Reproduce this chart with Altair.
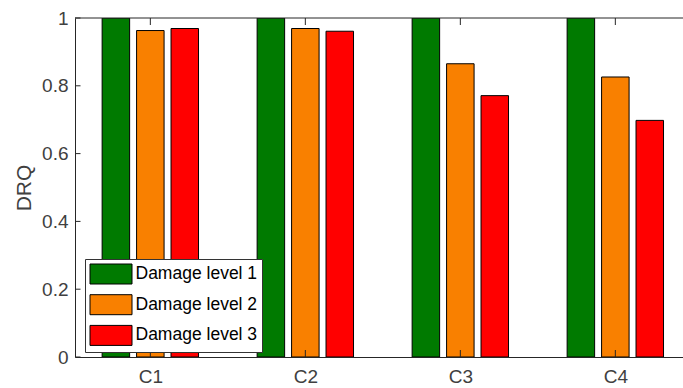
import json
import altair as alt
import pandas as pd

# Damage-response quotient per configuration and damage level
categories = ["C1", "C2", "C3", "C4"]
levels = ["Damage level 1", "Damage level 2", "Damage level 3"]
drq_level1 = [1.0, 1.0, 1.0, 1.0]
drq_level2 = [0.963, 0.969, 0.865, 0.826]
drq_level3 = [0.969, 0.961, 0.771, 0.698]
level_colors = ["#007a00", "#f98000", "#ff0000"]
y_ticks = [0, 0.2, 0.4, 0.6, 0.8, 1.0]

W, H = 608, 339
AXIS_COLOR = "#262626"
TEXT_COLOR = "#404040"
FONT = "Liberation Sans"

rows = []
for li, (name, series) in enumerate(zip(levels, [drq_level1, drq_level2, drq_level3]), start=1):
    for gi, (cat, v) in enumerate(zip(categories, series), start=1):
        rows.append({"group": gi, "level": li, "category": cat, "series": name, "DRQ": v})
df = pd.DataFrame(rows)

# grouped-bar layout: 3 bars share 2/3 of each unit slot
bar_step = (2 / 3) / len(levels)
x_scale = alt.Scale(domain=[0.514, 0.514 + W / 155.0], nice=False, zero=False, padding=0)
y_scale = alt.Scale(domain=[0, 1], nice=False)

label_expr = json.dumps(categories) + "[datum.value - 1]"

bars = (
    alt.Chart(df)
    .transform_calculate(pos=f"datum.group + (datum.level - 2) * {bar_step}")
    .mark_bar(size=27.5, stroke="black", strokeWidth=1, clip=True)
    .encode(
        x=alt.X(
            "pos:Q",
            scale=x_scale,
            axis=alt.Axis(
                values=[1, 2, 3, 4],
                labelExpr=label_expr,
                title="",
                grid=False,
                ticks=False,
                labelPadding=10,
                labelFontSize=19,
                labelFont=FONT,
                labelColor=TEXT_COLOR,
                domainColor=AXIS_COLOR,
                domainWidth=1,
                zindex=1,
            ),
        ),
        y=alt.Y(
            "DRQ:Q",
            scale=y_scale,
            axis=alt.Axis(
                values=y_ticks,
                format="~g",
                title="DRQ",
                grid=False,
                ticks=False,
                labelPadding=7,
                labelFontSize=19,
                labelFont=FONT,
                labelColor=TEXT_COLOR,
                titleFont=FONT,
                titleFontSize=21,
                titleFontWeight="normal",
                titleColor=TEXT_COLOR,
                titleX=-51,
                titleY=H / 2,
                titleAngle=-90,
                titleAlign="center",
                titleBaseline="middle",
                domainColor=AXIS_COLOR,
                domainWidth=1,
                zindex=1,
            ),
        ),
        color=alt.Color(
            "series:N",
            scale=alt.Scale(domain=levels, range=level_colors),
            legend=alt.Legend(
                title=None,
                orient="none",
                legendX=10,
                legendY=241,
                direction="vertical",
                # wide swatch: 20px layout box, drawn 42px wide to the right
                symbolType="M-1,-1H3.2V1H-1Z",
                symbolSize=400,
                symbolStrokeColor="black",
                symbolStrokeWidth=1,
                symbolOpacity=1,
                labelFont=FONT,
                labelFontSize=17.5,
                labelColor="black",
                labelOffset=25,
                rowPadding=5.7,
                padding=4.5,
                fillColor="white",
                strokeColor="#333333",
            ),
        ),
    )
)

tick_df = pd.DataFrame({"DRQ": y_ticks})
group_df = pd.DataFrame({"pos": [1, 2, 3, 4]})

# inward-pointing tick marks on left, bottom and top edges
y_tick_marks = (
    alt.Chart(tick_df)
    .mark_rule(color=AXIS_COLOR, strokeWidth=1)
    .encode(y=alt.Y("DRQ:Q", scale=y_scale), x=alt.value(0), x2=alt.value(5.5))
)
x_tick_bottom = (
    alt.Chart(group_df)
    .mark_rule(color=AXIS_COLOR, strokeWidth=1)
    .encode(x=alt.X("pos:Q", scale=x_scale), y=alt.value(H), y2=alt.value(H - 7))
)
x_tick_top = (
    alt.Chart(group_df)
    .mark_rule(color=AXIS_COLOR, strokeWidth=1)
    .encode(x=alt.X("pos:Q", scale=x_scale), y=alt.value(0), y2=alt.value(7))
)
top_border = (
    alt.Chart(pd.DataFrame({"edge": [1]}))
    .mark_rule(color=AXIS_COLOR, strokeWidth=1)
    .encode(x=alt.value(0), x2=alt.value(W), y=alt.value(0))
)

chart = (
    alt.layer(bars, y_tick_marks, x_tick_bottom, x_tick_top, top_border)
    .properties(
        width=W,
        height=H,
        padding={"left": 75, "top": 18, "right": 0, "bottom": 31},
        autosize=alt.AutoSizeParams(type="none"),
        background="white",
    )
    .configure_view(stroke=None)
)

chart.save("out.html", embed_options={"renderer": "svg", "actions": False})
